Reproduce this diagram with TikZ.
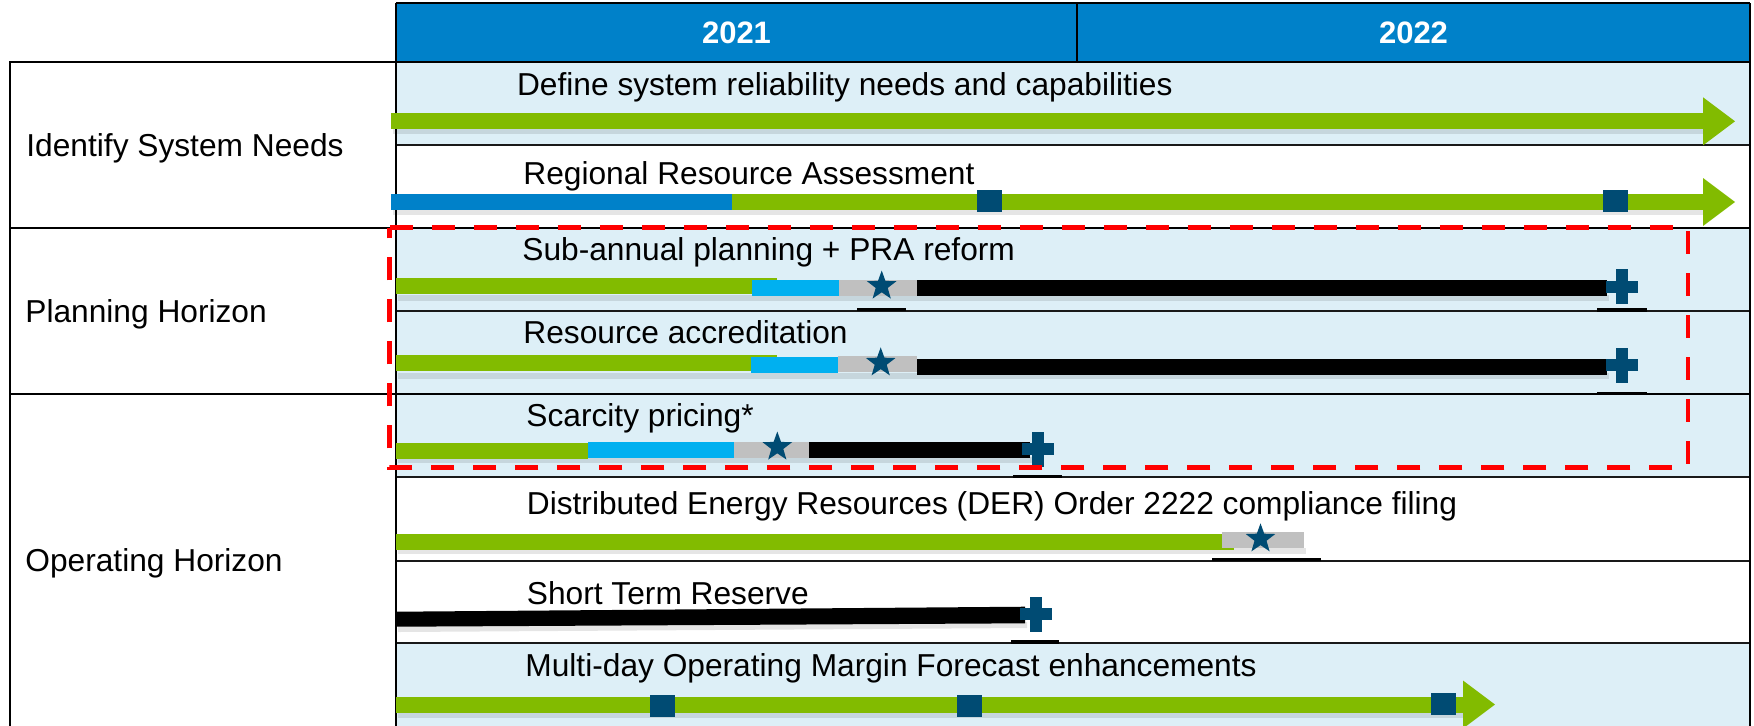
\documentclass[tikz,border=0pt]{standalone}
\usepackage{fontspec}
\setmainfont{Liberation Sans}
\usetikzlibrary{shapes.geometric}

\definecolor{hdrblue}{RGB}{0,129,201}
\definecolor{rowblue}{RGB}{221,239,247}
\definecolor{bargreen}{RGB}{130,187,0}
\definecolor{barcyan}{RGB}{0,176,240}
\definecolor{bargray}{RGB}{192,192,192}
\definecolor{markblue}{RGB}{0,75,115}
\definecolor{scopered}{RGB}{255,0,0}

% horizontal bar segment: colour, x from, x to, y centre
\newcommand\barseg[4]{\fill[#1] (#2,#4-8) rectangle (#3,#4+8);}
% soft shadow under a whole bar: x from, x to, y centre
\newcommand\barshadow[3]{\fill[black,opacity=0.10] (#1+2,#3+7) rectangle (#2+2,#3+13);}
% arrow head at the end of a bar: x start, y centre
\newcommand\barhead[2]{\fill[bargreen] (#1,#2-24) -- (#1+32,#2) -- (#1,#2+24) -- cycle;}

\begin{document}
\begin{tikzpicture}[x=0.5pt,y=-0.5pt,
  frame/.style={line width=1.2pt,draw=black},
  rowline/.style={line width=1pt,draw=black!90},
  tick/.style={line width=1.6pt,draw=black},
  scope box/.style={draw=scopered,line width=2.35pt,dash pattern=on 11.5pt off 9.5pt},
  txt/.style={anchor=base west,inner sep=0pt,font=\fontsize{15.85}{19}\selectfont},
  year/.style={inner sep=0pt,text=white,font=\fontsize{15.5}{18}\selectfont\bfseries},
  starmark/.style={star,star points=5,star point ratio=2.45,fill=markblue,
    inner sep=0pt,minimum size=15.5pt},
  plusmark/.pic={\fill[markblue] (-6,-17.5) rectangle (6,17.5);
                 \fill[markblue] (-16,-6) rectangle (16,6);},
  sqmark/.pic={\fill[markblue] (-12.5,-11) rectangle (12.5,11);}
]
\useasboundingbox (0,0) rectangle (1754,725);

% ---- row backgrounds ----
\fill[hdrblue] (396,3) rectangle (1750,62);
\fill[rowblue] (396,62) rectangle (1750,145);
\fill[rowblue] (396,228) rectangle (1750,477);
\fill[rowblue] (396,643) rectangle (1750,726);

% ---- grid ----
\draw[rowline] (396,145) -- (1750,145);
\draw[rowline] (396,311) -- (1750,311);
\draw[rowline] (396,477) -- (1750,477);
\draw[rowline] (396,560.5) -- (1750,560.5);
\draw[rowline] (396,643) -- (1750,643);
\draw[line width=0.6pt] (1077,3) -- (1077,62);
\draw[frame] (10,228) -- (1750,228);
\draw[frame] (10,394) -- (1750,394);
\draw[frame] (10,726) -- (10,62) -- (1750,62);
\draw[frame] (396,3) -- (1750,3);
\draw[frame] (396,3) -- (396,726);
\draw[frame] (1750,3) -- (1750,726);

% thicker line pieces under milestones
\draw[tick] (857,309.5) -- (906,309.5);
\draw[tick] (1597,310) -- (1647,310);
\draw[tick] (1597,393.5) -- (1647,393.5);
\draw[tick] (1013,476.5) -- (1062,476.5);
\draw[tick] (1212,559.5) -- (1321,559.5);
\draw[tick] (1011,642) -- (1059,642);

% ---- year header ----
\node[year] (y2021) at (736.5,33) {2021};
\node[year] (y2022) at (1413.5,33) {2022};

% ---- group labels ----
\node[txt] (gIdentify) at (26,156.7) {Identify System Needs};
\node[txt] (gPlanning) at (25,322.5) {Planning Horizon};
\node[txt] (gOperating) at (25,571) {Operating Horizon};

% ---- task labels ----
\node[txt] (tDefine) at (516.7,95) {Define system reliability needs and capabilities};
\node[txt] (tRegional) at (523,184) {Regional Resource Assessment};
\node[txt] (tSubannual) at (522,260.7) {Sub-annual planning + PRA reform};
\node[txt] (tAccred) at (523,343.3) {Resource accreditation};
\node[txt] (tScarcity) at (526,426) {Scarcity pricing*};
\node[txt] (tDER) at (526.5,514) {Distributed Energy Resources (DER) Order 2222 compliance filing};
\node[txt] (tReserve) at (526.5,604.3) {Short Term Reserve};
\node[txt] (tForecast) at (525,676) {Multi-day Operating Margin Forecast enhancements};

% ---- row 1: define needs ----
\barshadow{391}{1703}{121.3}
\barseg{bargreen}{391}{1703}{121.3}
\barhead{1703}{121.3}

% ---- row 2: regional assessment ----
\barshadow{391}{1703}{202}
\barseg{hdrblue}{391}{732.3}{202}
\barseg{bargreen}{732.3}{1703}{202}
\barhead{1703}{202}
\pic at (989.5,201) {sqmark};
\pic at (1615.7,200.8) {sqmark};

% ---- row 3: sub-annual planning ----
\barshadow{396}{1607}{288}
\barseg{bargreen}{396}{777}{285.8}
\barseg{barcyan}{752}{839}{288}
\barseg{bargray}{839}{916.7}{288}
\barseg{black}{916.7}{1607}{288}
\node[starmark] (s3) at (881.7,286) {};
\pic at (1622.3,286.7) {plusmark};

% ---- row 4: resource accreditation ----
\barshadow{396}{1607}{366}
\barseg{bargreen}{396}{777}{363.2}
\barseg{barcyan}{751}{838}{365}
\barseg{bargray}{838}{916.7}{364}
\barseg{black}{916.7}{1607}{366.8}
\node[starmark] (s4) at (880.7,362.8) {};
\pic at (1622.3,365) {plusmark};

% ---- row 5: scarcity pricing ----
\barshadow{396}{1030}{450}
\barseg{bargreen}{396}{587.6}{450.5}
\barseg{barcyan}{587.6}{734}{450}
\barseg{bargray}{734}{809}{450}
\barseg{black}{809}{1030}{450}
\node[starmark] (s5) at (777.3,447) {};
\pic at (1037.7,449) {plusmark};

% ---- row 6: DER order 2222 ----
\barshadow{396}{1304}{541}
\barseg{bargreen}{396}{1234}{541.7}
\barseg{bargray}{1221.5}{1304}{539.5}
\node[starmark] (s6) at (1260.5,538.8) {};

% ---- row 7: short term reserve ----
\fill[black,opacity=0.10] (398,626) -- (1027,622) -- (1027,628) -- (398,632) -- cycle;
\fill[black] (396,611.7) -- (1025,606.7) -- (1025,623.3) -- (396,626.7) -- cycle;
\pic at (1035.6,614) {plusmark};

% ---- row 8: forecast enhancements ----
\barshadow{396}{1463}{704.5}
\barseg{bargreen}{396}{1463}{704.5}
\barhead{1463}{704.5}
\pic at (662.5,705.5) {sqmark};
\pic at (969,706) {sqmark};
\pic at (1443,704) {sqmark};

% ---- scope outline ----
\draw[scope box] (389.8,227.5) -- (1688,227.5) -- (1688,467.7) -- (389.8,467.7) -- cycle;

\end{tikzpicture}
\end{document}
